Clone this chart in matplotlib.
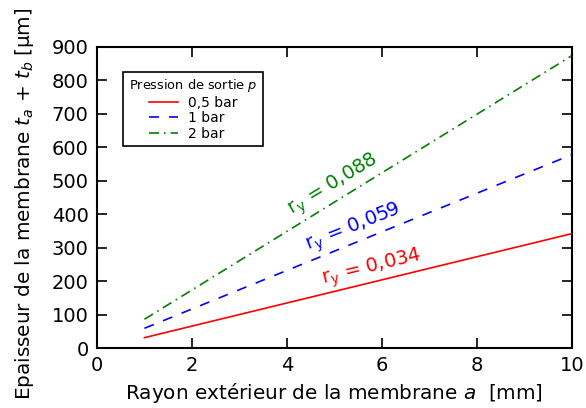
import numpy as np
import matplotlib
matplotlib.use('Agg')
import matplotlib.pyplot as plt

plt.rc('font', size=14)
plt.rc('axes', linewidth=1.5)

# rayon exterieur a [mm]
a = [1, 10]
t_05 = [31, 342]   # 0,5 bar
t_1 = [59, 578]    # 1 bar
t_2 = [86, 874]    # 2 bar

labels = ['0,5 bar', '1 bar', '2 bar']
ry_txt = ['$\\mathregular{r_y}$ = 0,034', '$\\mathregular{r_y}$ = 0,059', '$\\mathregular{r_y}$ = 0,088']
ry_pos = [(5.79, 240), (5.39, 359), (4.97, 488)]
ry_rot = [13.5, 21.5, 31]

fig = plt.figure(figsize=(5.86, 4.08), dpi=100)
ax = fig.add_axes([0.1655, 0.147, 0.8105, 0.738])
ax.plot(a, t_05, '-', c='red', lw=1.2, label=labels[0])
ax.plot(a, t_1, '--', c='blue', lw=1.2, dashes=(6, 6), label=labels[1])
ax.plot(a, t_2, '-.', c='green', lw=1.2, dashes=(6, 3, 1, 3), label=labels[2])

cols = ['red', 'blue', 'green']
for i in range(3):
    ax.text(ry_pos[i][0], ry_pos[i][1], ry_txt[i], color=cols[i], fontsize=14,
            rotation=ry_rot[i], rotation_mode='anchor', ha='center', va='center')

ax.set_xlim(0, 10)
ax.set_ylim(0, 900)
ax.set_xticks(np.arange(0, 11, 2))
ax.set_yticks(np.arange(0, 901, 100))
ax.tick_params(direction='in', length=7, width=1.2, top=True, right=True, pad=6)
ax.set_xlabel('Rayon extérieur de la membrane $a$  [mm]', fontsize=14.4)
ax.set_ylabel('Epaisseur de la membrane $t_a$ + $t_b$ [µm]', fontsize=14.4)
ax.yaxis.set_label_coords(-0.128, 0.478)

leg = ax.legend(loc='upper left', bbox_to_anchor=(0.055, 0.917), borderaxespad=0,
                fontsize=10, title='Pression de sortie $p$', title_fontsize=9.3,
                fancybox=False, framealpha=1, edgecolor='black', handlelength=2.1,
                borderpad=0.4, labelspacing=0.1, handletextpad=0.7)
leg.get_frame().set_linewidth(1.2)

fig.savefig('out.png', dpi=100)
